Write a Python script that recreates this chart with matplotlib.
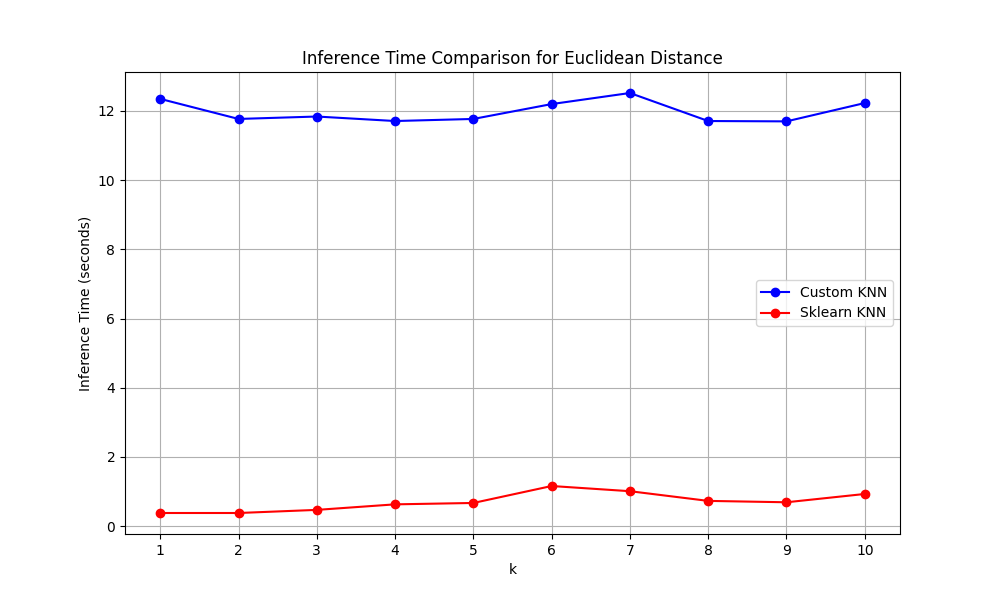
import matplotlib
matplotlib.use("Agg")
import matplotlib.pyplot as plt

k_values = [1, 2, 3, 4, 5, 6, 7, 8, 9, 10]
custom_times = [12.35, 11.77, 11.84, 11.71, 11.77, 12.20, 12.52, 11.71, 11.70, 12.23]
sklearn_times = [0.38, 0.38, 0.47, 0.63, 0.67, 1.16, 1.01, 0.73, 0.69, 0.93]

fig, ax = plt.subplots(figsize=(10, 6), dpi=100)
ax.plot(k_values, custom_times, marker='o', color='blue', label='Custom KNN')
ax.plot(k_values, sklearn_times, marker='o', color='red', label='Sklearn KNN')
ax.set_xlabel('k')
ax.set_ylabel('Inference Time (seconds)')
ax.set_title('Inference Time Comparison for Euclidean Distance')
ax.set_xticks(k_values)
ax.legend(loc='center right')
ax.grid(True)

fig.savefig('out.png')
